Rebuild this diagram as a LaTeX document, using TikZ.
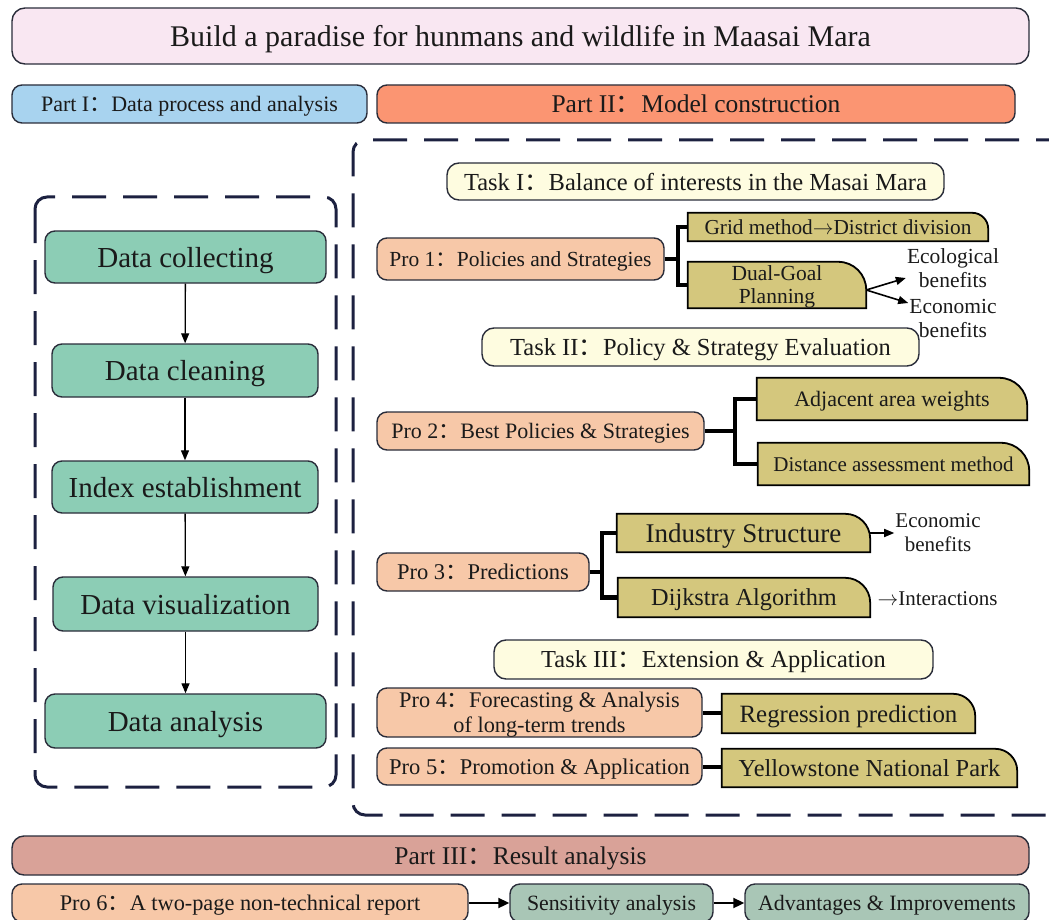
\documentclass[tikz,border=0pt]{standalone}
\usepackage{fontspec}
\setmainfont{Liberation Serif}
\newfontfamily\cjk{Noto Sans CJK SC}
\usetikzlibrary{arrows.meta}
\pgfdeclarelayer{background}
\pgfsetlayers{background,main}
\newcommand\fc{{\cjk ：}}
\newcommand\ar{$\rightarrow$}
\newcommand\fsz[2]{\fontsize{#1}{#2}\selectfont}
\definecolor{pinkc}{HTML}{F9E7F2}
\definecolor{bluec}{HTML}{A8D3EF}
\definecolor{orangec}{HTML}{FB9572}
\definecolor{creamc}{HTML}{FEFCE0}
\definecolor{peachc}{HTML}{F7C8A8}
\definecolor{khakic}{HTML}{D4C77D}
\definecolor{tealc}{HTML}{8CCDB5}
\definecolor{rosec}{HTML}{D9A298}
\definecolor{sagec}{HTML}{A9C6B6}
\definecolor{bdr}{HTML}{2A2D3A}
\definecolor{dashc}{HTML}{1C2140}
\definecolor{txt}{HTML}{1A1A1A}
\newcommand\kshape[2]{%
\begin{pgfonlayer}{background}
\draw[draw=black,line width=1.8pt,fill=khakic,line join=miter]
 (#1.south west) -- (#1.north west) -- ([xshift=-#2pt]#1.north east)
 .. controls ([xshift=-0.448*#2pt]#1.north east) and ([yshift=-0.448*#2pt]#1.north east) ..
 ([yshift=-#2pt]#1.north east) -- (#1.south east) -- cycle;
\end{pgfonlayer}}
\begin{document}
\begin{tikzpicture}[x=1pt,y=-1pt,
  box/.style={draw=bdr, line width=1.4pt, text=txt, inner sep=0pt, rounded corners=10pt, align=center, text depth=0pt},
  kbox/.style={inner sep=0pt, text=txt, align=center, text depth=0pt},
  plain/.style={inner sep=1pt, text=txt, align=center, text depth=0pt},
  arr/.style={-{Triangle[length=10pt,width=8pt]}, line width=1.3pt, draw=black},
  arrb/.style={-{Triangle[length=11pt,width=10pt]}, line width=2pt, draw=black},
  br/.style={line width=4.5pt, draw=black},
  dashframe/.style={draw=dashc, line width=3pt, dash pattern=on 34pt off 17pt, rounded corners=12pt}
]
\useasboundingbox (0,0) rectangle (1049,920);

% top
\node[box, fill=pinkc, rounded corners=13pt, minimum width=1017pt, minimum height=56pt, font=\fsz{30}{34}] (title) at (520.5,36) {Build a paradise for hunmans and wildlife in Maasai Mara};
\node[box, fill=bluec, minimum width=355pt, minimum height=38pt, font=\fsz{22}{25}] (p1head) at (189.5,104) {Part I\fc Data process and analysis};
\node[box, fill=orangec, minimum width=638pt, minimum height=38pt, font=\fsz{25.5}{28}] (p2head) at (696,104) {Part II\fc Model construction};

% frames
\draw[dashframe] (35,197) rectangle (336,787);
\draw[dashframe] (1070,140) -- (353,140) -- (353,815) -- (1070,815);

% left column
\begin{scope}[every node/.style={box, fill=tealc, font=\fsz{29}{32}}]
\node[minimum width=281pt, minimum height=52pt] (dc1) at (185.5,257) {Data collecting};
\node[minimum width=266pt, minimum height=53pt] (dc2) at (185,370.5) {Data cleaning};
\node[minimum width=266pt, minimum height=52pt] (dc3) at (185,487) {Index establishment};
\node[minimum width=265pt, minimum height=54pt] (dc4) at (185.5,604) {Data visualization};
\node[minimum width=281pt, minimum height=54pt] (dc5) at (185.5,721) {Data analysis};
\end{scope}
\draw[arr] (dc1) -- (dc2);
\draw[arr] (dc2) -- (dc3);
\draw[arr] (dc3) -- (dc4);
\draw[arr] (dc4) -- (dc5);

% Task I
\node[box, fill=creamc, rounded corners=12pt, minimum width=497pt, minimum height=37pt, font=\fsz{24.5}{27}] (t1) at (695.5,181.5) {Task I\fc Balance of interests in the Masai Mara};
\node[box, fill=peachc, minimum width=287pt, minimum height=42pt, font=\fsz{21.5}{24}] (pro1) at (520.5,259) {Pro 1\fc Policies and Strategies};
\node[kbox, minimum width=300pt, minimum height=28pt, font=\fsz{21.3}{24}] (grid) at (838,227) {Grid method\ar District division};
\kshape{grid}{16}
\node[kbox, minimum width=178pt, minimum height=46pt, font=\fsz{21.5}{23}] (dual) at (777,285) {Dual-Goal\\Planning};
\kshape{dual}{28}
\coordinate (b1) at (678,259);
\draw[br] (pro1.east) -- (b1);
\draw[br] (grid.west) -- (grid.west -| b1) -- (dual.west -| b1) -- (dual.west);
\node[plain, font=\fsz{21.5}{24}] (eco) at (953,268) {Ecological\\benefits};
\node[plain, font=\fsz{21.5}{24}] (econa) at (953,318) {Economic\\benefits};
\coordinate (dg) at ([yshift=-5pt]dual.east);
\draw[arr, line width=1.6pt] (dg) -- ([yshift=-10pt]eco.west);
\draw[arr, line width=1.6pt] (dg) -- ([yshift=15pt]econa.west);

% Task II
\node[box, fill=creamc, rounded corners=12pt, minimum width=437pt, minimum height=38pt, font=\fsz{24.5}{27}] (t2) at (700.5,347) {Task II\fc Policy \& Strategy Evaluation};
\node[box, fill=peachc, minimum width=327pt, minimum height=38pt, font=\fsz{22}{25}] (pro2) at (540.5,431) {Pro 2\fc Best Policies \& Strategies};
\node[kbox, minimum width=270pt, minimum height=42pt, font=\fsz{22}{25}] (adj) at (892,399) {Adjacent area weights};
\kshape{adj}{28}
\node[kbox, minimum width=271pt, minimum height=42pt, font=\fsz{21}{24}] (dist) at (893.5,464) {Distance assessment method};
\kshape{dist}{28}
\coordinate (b2) at (735,431);
\draw[br] (pro2.east) -- (b2);
\draw[br] (adj.west) -- (adj.west -| b2) -- (dist.west -| b2) -- (dist.west);

% Pro 3
\node[box, fill=peachc, minimum width=212pt, minimum height=38pt, font=\fsz{22.5}{25}] (pro3) at (483,572) {Pro 3\fc Predictions};
\node[kbox, minimum width=253pt, minimum height=38pt, font=\fsz{27}{30}] (ind) at (743.5,533) {Industry Structure};
\kshape{ind}{25}
\node[kbox, minimum width=252pt, minimum height=39pt, font=\fsz{24.3}{27}] (dij) at (744,597.5) {Dijkstra Algorithm};
\kshape{dij}{25}
\coordinate (b3) at (602,572);
\draw[br] (pro3.east) -- (b3);
\draw[br] (ind.west) -- (ind.west -| b3) -- (dij.west -| b3) -- (dij.west);
\node[plain, font=\fsz{21}{24}] (econb) at (938,533) {Economic\\benefits};
\draw[arr, line width=1.6pt] (ind.east) -- (econb.west);
\node[plain, font=\fsz{21}{24}] (inter) at (937.5,599) {\ar Interactions};

% Task III
\node[box, fill=creamc, rounded corners=12pt, minimum width=439pt, minimum height=39pt, font=\fsz{24.4}{27}] (t3) at (713.5,659.5) {Task III\fc Extension \& Application};
\node[box, fill=peachc, minimum width=325pt, minimum height=49pt, font=\fsz{22.3}{25}] (pro4) at (539.5,712.5) {Pro 4\fc Forecasting \& Analysis\\of long-term trends};
\node[kbox, minimum width=253pt, minimum height=39pt, font=\fsz{24.9}{27}] (reg) at (848.5,713.5) {Regression prediction};
\kshape{reg}{22}
\draw[br, line width=4pt] (pro4.east) -- (pro4.east -| reg.west);
\node[box, fill=peachc, minimum width=325pt, minimum height=37pt, font=\fsz{22.5}{25}] (pro5) at (539.5,766.5) {Pro 5\fc Promotion \& Application};
\node[kbox, minimum width=295pt, minimum height=38pt, font=\fsz{24.4}{27}] (yel) at (869.5,768) {Yellowstone National Park};
\kshape{yel}{22}
\draw[br, line width=4pt] (pro5.east) -- (pro5.east -| yel.west);

% Part III
\node[box, fill=rosec, rounded corners=12pt, minimum width=1017pt, minimum height=39pt, font=\fsz{25.5}{28}] (p3head) at (520.5,855.5) {Part III\fc Result analysis};
\node[box, fill=peachc, minimum width=456pt, minimum height=38pt, font=\fsz{22.3}{25}] (pro6) at (240,903) {Pro 6\fc A two-page non-technical report};
\node[box, fill=sagec, minimum width=203pt, minimum height=38pt, font=\fsz{21.8}{25}] (sens) at (611.5,903) {Sensitivity analysis};
\node[box, fill=sagec, minimum width=284pt, minimum height=38pt, font=\fsz{21.9}{25}] (adv) at (887,903) {Advantages \& Improvements};
\draw[arrb] (pro6) -- (sens);
\draw[arrb] (sens) -- (adv);
\end{tikzpicture}
\end{document}
